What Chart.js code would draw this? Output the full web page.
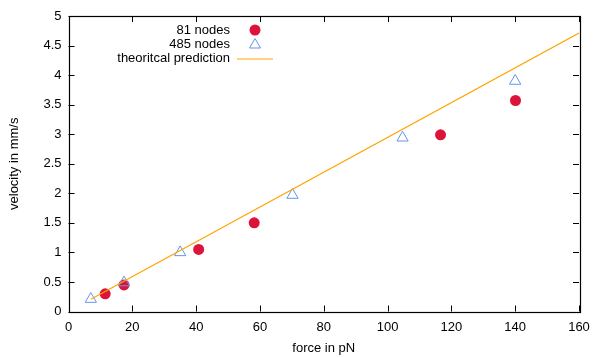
<!DOCTYPE html>
<html>
<head>
<meta charset="utf-8">
<script src="https://cdn.jsdelivr.net/npm/chart.js@4"></script>
<style>
  html, body { margin: 0; padding: 0; background: #fff; }
  #wrap { width: 594px; height: 358px; }
</style>
</head>
<body>
<div id="wrap"><canvas id="chart" width="594" height="358"></canvas></div>
<script>
/* data */
const force81 = [11.5, 17.4, 40.8, 58.2, 116.6, 140.1];
const vel81 = [0.30, 0.45, 1.05, 1.50, 2.99, 3.57];

const force485 = [7.0, 17.4, 35.0, 70.2, 104.7, 140.0];
const vel485 = [0.21, 0.49, 1.00, 1.97, 2.94, 3.90];

const predForce = [7, 160];
const predVel = [0.206, 4.71];

const xTicks = [0, 20, 40, 60, 80, 100, 120, 140, 160];
const yTicks = [0, 0.5, 1, 1.5, 2, 2.5, 3, 3.5, 4, 4.5, 5];

const legendLabels = ["81 nodes", "485 nodes", "theoritcal prediction"];

const RED = "#dc143c";
const BLUE = "#6495ed";
const ORANGE = "#ffa500";
const FONT = "'Liberation Sans', Arial, sans-serif";
const FS = 13;

const toPts = (xs, ys) => xs.map((x, i) => ({ x, y: ys[i] }));

/* frame + inside ticks on all four sides, like gnuplot */
const framePlugin = {
  id: "frame",
  beforeDatasetsDraw(chart) {
    const { ctx, chartArea: a, scales } = chart;
    ctx.save();
    ctx.strokeStyle = "#000";
    ctx.lineWidth = 1;
    ctx.beginPath();
    xTicks.forEach(v => {
      const px = Math.round(scales.x.getPixelForValue(v)) + 0.5;
      ctx.moveTo(px, a.bottom); ctx.lineTo(px, a.bottom - 6);
      ctx.moveTo(px, a.top); ctx.lineTo(px, a.top + 6);
    });
    yTicks.forEach(v => {
      const py = Math.round(scales.y.getPixelForValue(v)) + 0.5;
      ctx.moveTo(a.left, py); ctx.lineTo(a.left + 6, py);
      ctx.moveTo(a.right, py); ctx.lineTo(a.right - 6, py);
    });
    ctx.stroke();
    ctx.lineWidth = 1.2;
    ctx.strokeRect(Math.round(a.left) + 0.5, Math.round(a.top) + 0.5,
      Math.round(a.right - a.left), Math.round(a.bottom - a.top));
    ctx.restore();
  }
};

/* key in the top left, text right-aligned, sample to its right */
const keyPlugin = {
  id: "key",
  afterDraw(chart) {
    const ctx = chart.ctx;
    const textRight = 230, sampleX = 255, rows = [30, 44, 58.5];
    ctx.save();
    ctx.font = FS + "px " + FONT;
    ctx.fillStyle = "#000";
    ctx.textAlign = "right";
    ctx.textBaseline = "middle";
    legendLabels.forEach((t, i) => ctx.fillText(t, textRight, rows[i]));

    ctx.fillStyle = RED;
    ctx.beginPath();
    ctx.arc(sampleX, rows[0], 5.5, 0, Math.PI * 2);
    ctx.fill();

    ctx.strokeStyle = BLUE;
    ctx.lineWidth = 1;
    ctx.beginPath();
    ctx.moveTo(sampleX, rows[1] - 5.5);
    ctx.lineTo(sampleX + 5.5, rows[1] + 4);
    ctx.lineTo(sampleX - 5.5, rows[1] + 4);
    ctx.closePath();
    ctx.stroke();

    ctx.strokeStyle = ORANGE;
    ctx.beginPath();
    ctx.moveTo(237, rows[2] + 0.5);
    ctx.lineTo(273, rows[2] + 0.5);
    ctx.stroke();
    ctx.restore();
  }
};

new Chart(document.getElementById("chart"), {
  type: "scatter",
  data: {
    datasets: [
      {
        label: legendLabels[2],
        type: "line",
        data: toPts(predForce, predVel),
        borderColor: ORANGE,
        borderWidth: 1.2,
        pointRadius: 0,
        fill: false
      },
      {
        label: legendLabels[1],
        data: toPts(force485, vel485),
        pointStyle: "triangle",
        pointRadius: 6.5,
        borderColor: BLUE,
        backgroundColor: "rgba(0,0,0,0)",
        borderWidth: 1
      },
      {
        label: legendLabels[0],
        data: toPts(force81, vel81),
        pointStyle: "circle",
        pointRadius: 5.5,
        borderWidth: 0,
        backgroundColor: RED,
        borderColor: RED
      }
    ]
  },
  options: {
    responsive: false,
    animation: false,
    layout: { padding: { top: 16, right: 15, left: 0, bottom: 0 } },
    plugins: {
      legend: { display: false },
      tooltip: { enabled: false }
    },
    scales: {
      x: {
        type: "linear",
        min: 0, max: 160,
        afterBuildTicks: s => { s.ticks = xTicks.map(v => ({ value: v })); },
        afterFit: s => { s.height = 46.5; s.paddingLeft = 0; s.paddingRight = 0; },
        grid: { display: false, drawTicks: false },
        border: { display: false },
        ticks: { color: "#000", padding: 8, font: { family: FONT, size: FS } },
        title: {
          display: true, text: "force in pN", color: "#000",
          font: { family: FONT, size: FS }, padding: { top: 0, bottom: 2 }
        }
      },
      y: {
        type: "linear",
        min: 0, max: 5,
        afterBuildTicks: s => { s.ticks = yTicks.map(v => ({ value: v })); },
        afterFit: s => { s.width = 68.5; s.paddingTop = 0; s.paddingBottom = 0; },
        grid: { display: false, drawTicks: false },
        border: { display: false },
        ticks: {
          color: "#000", padding: 7, font: { family: FONT, size: FS },
          callback: v => String(v)
        },
        title: {
          display: true, text: "velocity in mm/s", color: "#000",
          font: { family: FONT, size: FS }, padding: { top: 7, bottom: 0 }
        }
      }
    }
  },
  plugins: [framePlugin, keyPlugin]
});
</script>
</body>
</html>
